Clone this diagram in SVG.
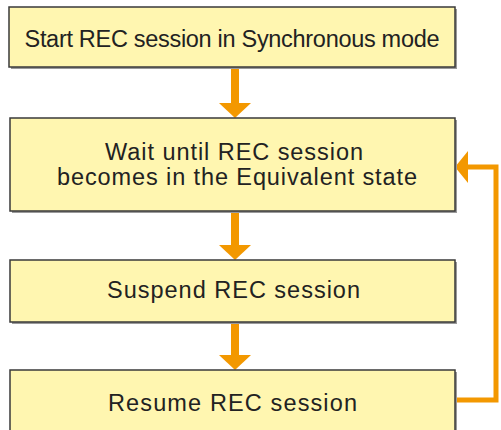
<svg xmlns="http://www.w3.org/2000/svg" width="501" height="430" viewBox="0 0 501 430">
<style>
.box{fill:#FFF6B0;stroke:#3a3a3a;stroke-width:1.5}
.shadow{fill:#9a9a9a}
.t{font-family:"Liberation Sans",Arial,sans-serif;font-size:23.5px;fill:#222;text-anchor:middle}
.ln{fill:none;stroke:#F39800;stroke-width:8}
.fb{fill:none;stroke:#F39800;stroke-width:5}
.hd{fill:#F39800}
</style>
<rect width="501" height="430" fill="#ffffff"/>
<g id="connectors">
<line class="ln" x1="235" y1="68" x2="235" y2="104"/>
<polygon class="hd" points="219,103 251,103 235,118"/>
<line class="ln" x1="235" y1="211" x2="235" y2="246"/>
<polygon class="hd" points="219,245 251,245 235,260"/>
<line class="ln" x1="235" y1="322" x2="235" y2="356"/>
<polygon class="hd" points="219,355 251,355 235,370"/>
<polyline class="fb" points="456,400 496,400 496,167 466,167"/>
<polygon class="hd" points="455,167 468,151 468,183"/>
</g>
<g id="n1">
<rect class="shadow" x="11" y="9" width="446" height="60"/>
<rect class="box" x="9" y="7" width="446" height="60"/>
<text class="t" x="232" y="47" textLength="415" lengthAdjust="spacing">Start REC session in Synchronous mode</text>
</g>
<g id="n2">
<rect class="shadow" x="12" y="120" width="445" height="93"/>
<rect class="box" x="10" y="118" width="445" height="93"/>
<text class="t" x="234" y="160" textLength="258" lengthAdjust="spacing">Wait until REC session</text>
<text class="t" x="237" y="185" textLength="360" lengthAdjust="spacing">becomes in the Equivalent state</text>
</g>
<g id="n3">
<rect class="shadow" x="12" y="262" width="445" height="62"/>
<rect class="box" x="10" y="260" width="445" height="62"/>
<text class="t" x="233.5" y="298" textLength="253" lengthAdjust="spacing">Suspend REC session</text>
</g>
<g id="n4">
<rect class="shadow" x="12" y="372" width="445" height="70"/>
<rect class="box" x="10" y="370" width="445" height="70"/>
<text class="t" x="232.5" y="411" textLength="249" lengthAdjust="spacing">Resume REC session</text>
</g>
</svg>
